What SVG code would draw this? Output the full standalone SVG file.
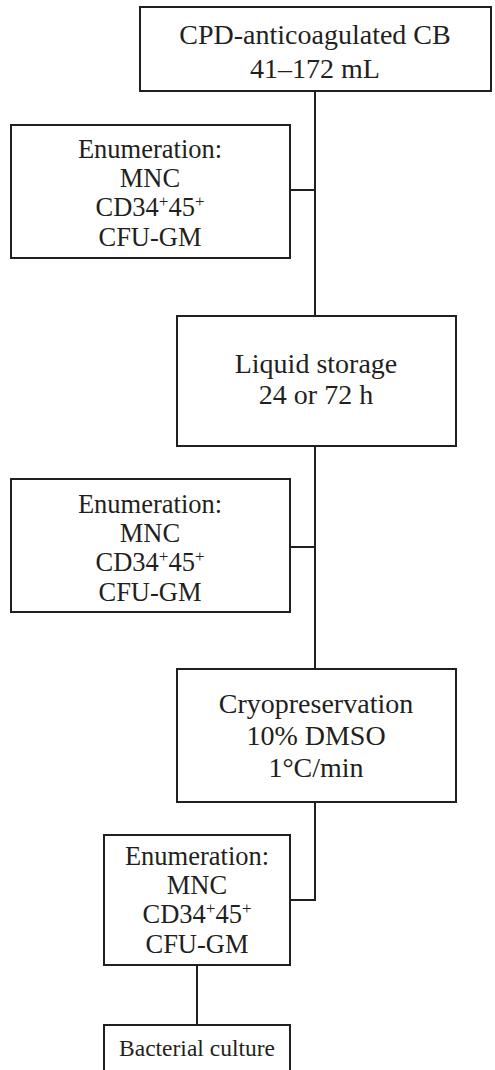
<svg xmlns="http://www.w3.org/2000/svg" width="495" height="1070" viewBox="0 0 495 1070">
  <style>
    .box { fill: #ffffff; stroke: #231f20; stroke-width: 2; }
    .wire { fill: none; stroke: #231f20; stroke-width: 2; }
    text { font-family: "Liberation Serif", "Times New Roman", serif; fill: #231f20; text-anchor: middle; }
    .big { font-size: 28px; }
    .mid { font-size: 26.5px; }
    .small { font-size: 23.5px; }
  </style>
  <rect width="495" height="1070" fill="#ffffff"/>

  <!-- connectors -->
  <g id="connectors">
    <line class="wire" x1="315" y1="91" x2="315" y2="316"/>
    <line class="wire" x1="290" y1="190" x2="315" y2="190"/>
    <line class="wire" x1="315" y1="446" x2="315" y2="669"/>
    <line class="wire" x1="290" y1="547" x2="315" y2="547"/>
    <polyline class="wire" points="315,802 315,900 290,900"/>
    <line class="wire" x1="197" y1="965" x2="197" y2="1025"/>
  </g>

  <!-- source blood -->
  <g id="cb-source">
    <rect class="box" x="140" y="7" width="351" height="84"/>
    <text class="big" x="315" y="44">CPD-anticoagulated CB</text>
    <text class="big" x="315" y="78">41–172 mL</text>
  </g>

  <!-- first count -->
  <g id="enum-1">
    <rect class="box" x="11" y="125" width="279" height="133"/>
    <text class="mid" x="150" y="158">Enumeration:</text>
    <text class="mid" x="150" y="187">MNC</text>
    <text class="mid" x="150" y="216">CD34<tspan dy="-9" font-size="17">+</tspan><tspan dy="9">45</tspan><tspan dy="-9" font-size="17">+</tspan></text>
    <text class="mid" x="150" y="246">CFU-GM</text>
  </g>

  <!-- liquid storage -->
  <g id="storage">
    <rect class="box" x="177" y="316" width="279" height="130"/>
    <text class="big" x="316" y="373">Liquid storage</text>
    <text class="big" x="316" y="404">24 or 72 h</text>
  </g>

  <!-- second count -->
  <g id="enum-2">
    <rect class="box" x="11" y="479" width="279" height="133"/>
    <text class="mid" x="150" y="513">Enumeration:</text>
    <text class="mid" x="150" y="542">MNC</text>
    <text class="mid" x="150" y="571">CD34<tspan dy="-9" font-size="17">+</tspan><tspan dy="9">45</tspan><tspan dy="-9" font-size="17">+</tspan></text>
    <text class="mid" x="150" y="601">CFU-GM</text>
  </g>

  <!-- freezing -->
  <g id="cryo">
    <rect class="box" x="177" y="669" width="279" height="133"/>
    <text class="big" x="316" y="713">Cryopreservation</text>
    <text class="big" x="316" y="745">10% DMSO</text>
    <text class="big" x="316" y="777">1°C/min</text>
  </g>

  <!-- post-thaw count -->
  <g id="enum-3">
    <rect class="box" x="104" y="835" width="186" height="130"/>
    <text class="mid" x="197" y="865">Enumeration:</text>
    <text class="mid" x="197" y="894">MNC</text>
    <text class="mid" x="197" y="923">CD34<tspan dy="-9" font-size="17">+</tspan><tspan dy="9">45</tspan><tspan dy="-9" font-size="17">+</tspan></text>
    <text class="mid" x="197" y="953">CFU-GM</text>
  </g>

  <!-- sterility -->
  <g id="bacterial">
    <rect class="box" x="104" y="1025" width="186" height="60"/>
    <text class="small" x="197" y="1056">Bacterial culture</text>
  </g>
</svg>
